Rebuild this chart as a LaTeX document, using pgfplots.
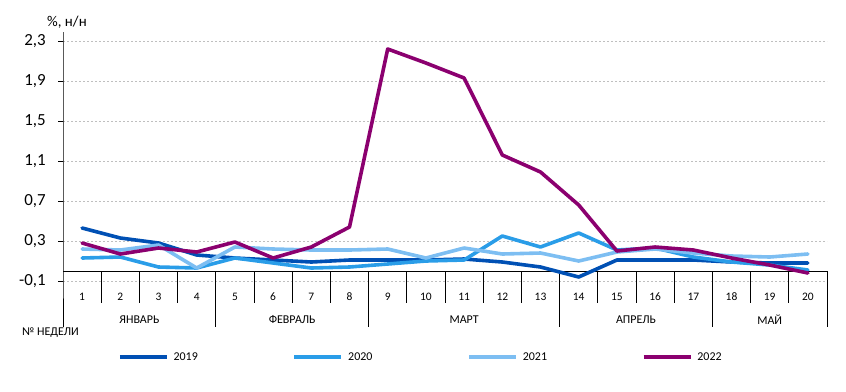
\documentclass[border=0pt]{standalone}
\usepackage{fontspec}
\setmainfont{Carlito}
\usepackage{pgfplots}
\pgfplotsset{compat=1.18}
\definecolor{c19}{HTML}{0050B4}
\definecolor{c20}{HTML}{2A9DE8}
\definecolor{c21}{HTML}{7DBEF2}
\definecolor{c22}{HTML}{8B006F}
\definecolor{gridc}{HTML}{BFBFBF}
\begin{document}
\begin{tikzpicture}[x=1bp,y=1bp]
\useasboundingbox (0,0) rectangle (846,-391);
\begin{axis}[
  at={(63bp,-281bp)}, anchor=south west,
  scale only axis, width=764bp, height=249bp,
  xmin=0.5, xmax=20.5, ymin=-0.1, ymax=2.39,
  clip=false,
  axis line style={draw=none},
  major tick length=0pt,
  xtick={1,...,20},
  ytick={-0.1,0.3,0.7,1.1,1.5,1.9,2.3},
  yticklabels={{-0,1},{0,3},{0,7},{1,1},{1,5},{1,9},{2,3}},
  /pgf/number format/assume math mode=true,
  ymajorgrids,
  grid style={gridc, dash pattern=on 2bp off 2bp, line width=0.6bp},
  xticklabel style={font=\fontsize{11.5}{13}\selectfont, anchor=center, yshift=-16bp},
  yticklabel style={font=\fontsize{17}{20}\selectfont, anchor=east, inner sep=0pt, xshift=-17bp},
  legend columns=4,
  legend image code/.code={\draw[#1, line cap=butt] (0bp,0bp) -- (47bp,0bp);},
  legend style={at={(0.072,-0.305)}, anchor=west, draw=none, fill=none, inner sep=0pt, outer sep=0pt,
    nodes={inner sep=0pt, text width=24bp, align=left, font=\fontsize{12}{14}\selectfont},
    /tikz/every odd column/.append style={column sep=5bp},
    /tikz/every even column/.append style={column sep=95bp}},
  every axis plot/.append style={line width=3.6bp, line join=round, line cap=round},
]
% decorations
\draw[black, line width=0.8bp] (axis cs:0.5,2.39) -- (axis cs:0.5,0) -- ++(0bp,-56bp);
\draw[black, line width=0.8bp] (axis cs:0.5,0) -- (axis cs:20.5,0);
\pgfplotsinvokeforeach{-0.1,0.3,0.7,1.1,1.5,1.9,2.3}{\draw[black, line width=0.8bp] (axis cs:0.5,#1) -- ++(-5bp,0bp);}
\pgfplotsinvokeforeach{1.5,2.5,3.5,5.5,6.5,7.5,9.5,10.5,11.5,12.5,14.5,15.5,16.5,18.5,19.5}{\draw[black, line width=0.8bp] (axis cs:#1,0) -- ++(0bp,-32bp);}
\pgfplotsinvokeforeach{4.5,8.5,13.5,17.5,20.5}{\draw[black, line width=0.8bp] (axis cs:#1,0) -- ++(0bp,-56bp);}
\node[font=\fontsize{12}{14}\selectfont] at (axis cs:2.5,0) [yshift=-49bp] {ЯНВАРЬ};
\node[font=\fontsize{12}{14}\selectfont] at (axis cs:6.5,0) [yshift=-49bp] {ФЕВРАЛЬ};
\node[font=\fontsize{12}{14}\selectfont] at (axis cs:11,0) [yshift=-49bp] {МАРТ};
\node[font=\fontsize{12}{14}\selectfont] at (axis cs:15.5,0) [yshift=-49bp] {АПРЕЛЬ};
\node[font=\fontsize{12}{14}\selectfont] at (axis cs:19,0) [yshift=-49bp] {МАЙ};

\addplot[c19] coordinates {(1,0.43)(2,0.33)(3,0.28)(4,0.16)(5,0.13)(6,0.11)(7,0.09)(8,0.11)(9,0.11)(10,0.11)(11,0.12)(12,0.09)(13,0.04)(14,-0.06)(15,0.11)(16,0.11)(17,0.11)(18,0.09)(19,0.08)(20,0.08)};
\addlegendentry{2019}
\addplot[c20] coordinates {(1,0.13)(2,0.14)(3,0.04)(4,0.03)(5,0.13)(6,0.08)(7,0.03)(8,0.04)(9,0.07)(10,0.10)(11,0.11)(12,0.35)(13,0.24)(14,0.38)(15,0.21)(16,0.23)(17,0.14)(18,0.09)(19,0.06)(20,0.01)};
\addlegendentry{2020}
\addplot[c21] coordinates {(1,0.22)(2,0.21)(3,0.26)(4,0.03)(5,0.24)(6,0.22)(7,0.21)(8,0.21)(9,0.22)(10,0.13)(11,0.23)(12,0.17)(13,0.18)(14,0.10)(15,0.19)(16,0.22)(17,0.18)(18,0.15)(19,0.14)(20,0.17)};
\addlegendentry{2021}
\addplot[c22] coordinates {(1,0.28)(2,0.17)(3,0.23)(4,0.19)(5,0.29)(6,0.13)(7,0.24)(8,0.44)(9,2.22)(10,2.08)(11,1.93)(12,1.16)(13,0.99)(14,0.66)(15,0.20)(16,0.24)(17,0.21)(18,0.13)(19,0.06)(20,-0.02)};
\addlegendentry{2022}
\end{axis}
\node[anchor=west, inner sep=0pt, font=\fontsize{15}{17}\selectfont] at (47,-22) {\%, н/н};
\node[anchor=west, inner sep=0pt, font=\fontsize{12}{14}\selectfont] at (22,-333) {№ НЕДЕЛИ};
\end{tikzpicture}
\end{document}
